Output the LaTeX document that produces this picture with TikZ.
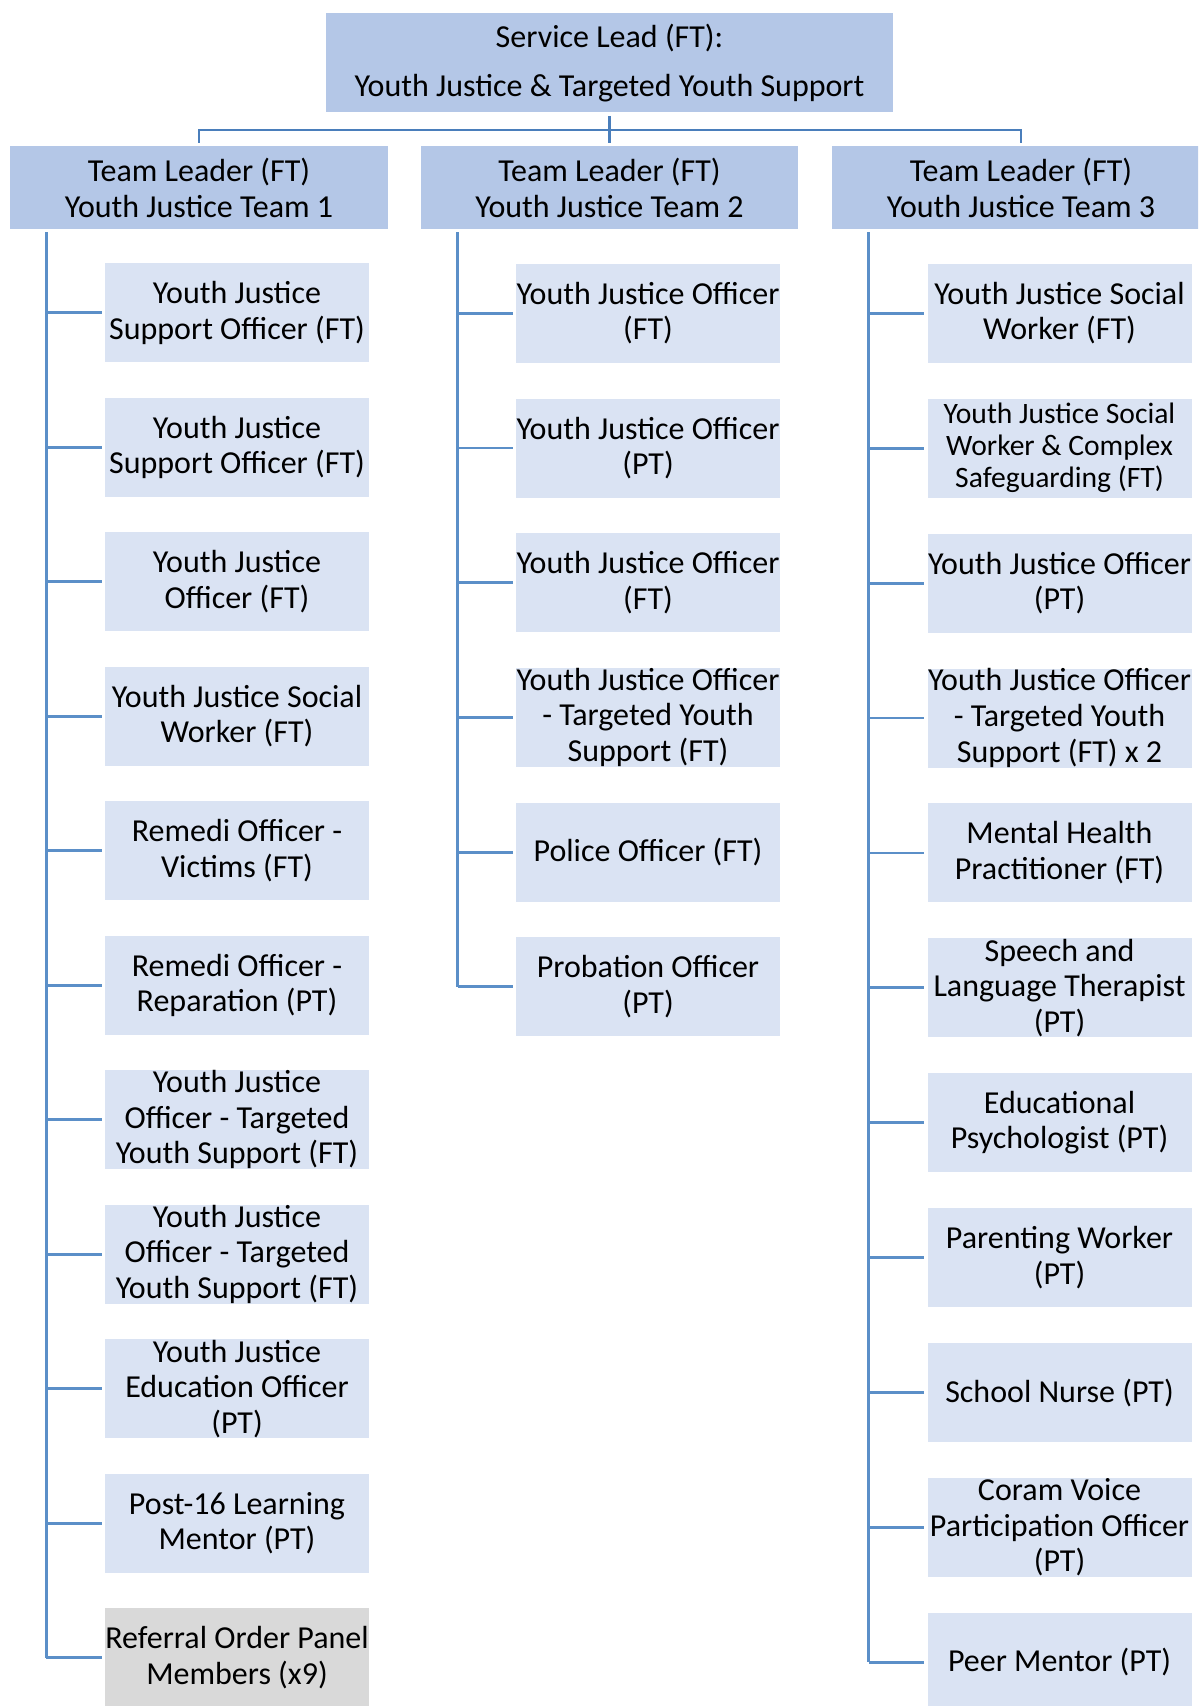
\documentclass[tikz,border=0pt]{standalone}
\usepackage{fontspec}
\setmainfont{Carlito}
\usepackage{tikz}
\usetikzlibrary{positioning}

\definecolor{leadblue}{HTML}{B4C7E7}
\definecolor{kidblue}{HTML}{DAE3F3}
\definecolor{panelgrey}{HTML}{D9D9D9}
\definecolor{linkblue}{HTML}{4A7EBB}
\definecolor{spineblue}{HTML}{5B8FC8}

\begin{document}
\begin{tikzpicture}[x=0.5pt, y=-0.5pt,
    lead/.style={fill=leadblue, inner sep=0pt, align=center, minimum width=283.5pt, minimum height=49.75pt, font=\fontsize{16}{24.5}\selectfont},
    teamlead/.style={fill=leadblue, inner sep=0pt, align=center, minimum width=188.8pt, minimum height=41.5pt, font=\fontsize{16}{18}\selectfont},
    kid/.style={fill=kidblue, inner sep=0pt, align=center, minimum width=132pt, minimum height=49.5pt, font=\fontsize{16}{17.8}\selectfont},
    kidsmall/.style={kid, font=\fontsize{14.8}{16}\selectfont},
    kidgrey/.style={kid, fill=panelgrey},
    bar/.style={linkblue, line width=1.3pt, shorten <=1.5pt, shorten >=1.5pt},
    spine/.style={spineblue, line width=1.6pt},
    branch/.style={spineblue, line width=1.4pt, shorten >=1.5pt}]

    % Page frame (the right team box and last rows run off the edge)
    \useasboundingbox (0,0) rectangle (1198,1706);
    \clip (0,0) rectangle (1198,1706);

    % Service lead and the three team leaders
    \node[lead] (lead) at (609.5,62.7) {Service Lead (FT):\\Youth Justice \& Targeted Youth Support};
    \node[teamlead] (tl1) at (199,187.5) {Team Leader (FT)\\Youth Justice Team 1};
    \node[teamlead] (tl2) at (609.5,187.5) {Team Leader (FT)\\Youth Justice Team 2};
    \node[teamlead] (tl3) at (1021,187.5) {Team Leader (FT)\\Youth Justice Team 3};

    % Bar from the lead to the team leaders
    \coordinate (barmid) at (609.5,130);
    \draw[bar] (lead.south) -- (tl2.north);
    \draw[bar] (tl1.north) |- (barmid) -| (tl3.north);

    % Team 1 staff
    \foreach \i/\txt/\sty in {1/{Youth Justice\\Support Officer (FT)}/kid,
                              2/{Youth Justice\\Support Officer (FT)}/kid,
                              3/{Youth Justice\\Officer (FT)}/kid,
                              4/{Youth Justice Social\\Worker (FT)}/kid,
                              5/{Remedi Officer -\\Victims (FT)}/kid,
                              6/{Remedi Officer -\\Reparation (PT)}/kid,
                              7/{Youth Justice\\Officer - Targeted\\Youth Support (FT)}/kid,
                              8/{Youth Justice\\Officer - Targeted\\Youth Support (FT)}/kid,
                              9/{Youth Justice\\Education Officer\\(PT)}/kid,
                              10/{Post-16 Learning\\Mentor (PT)}/kid,
                              11/{Referral Order Panel\\Members (x9)}/kidgrey} {
        \node[\sty] (a\i) at (237,{312.8+134.5*(\i-1)}) {\txt};
    }

    % Team 2 staff
    \foreach \i/\txt/\sty in {1/{Youth Justice Officer\\(FT)}/kid,
                              2/{Youth Justice Officer\\(PT)}/kid,
                              3/{Youth Justice Officer\\(FT)}/kid,
                              4/{Youth Justice Officer\\- Targeted Youth\\Support (FT)}/kid,
                              5/{Police Officer (FT)}/kid,
                              6/{Probation Officer\\(PT)}/kid} {
        \node[\sty] (b\i) at (648,{313.3+134.7*(\i-1)}) {\txt};
    }

    % Team 3 staff
    \foreach \i/\txt/\sty in {1/{Youth Justice Social\\Worker (FT)}/kid,
                              2/{Youth Justice Social\\Worker \& Complex\\Safeguarding (FT)}/kidsmall,
                              3/{Youth Justice Officer\\(PT)}/kid,
                              4/{Youth Justice Officer\\- Targeted Youth\\Support (FT) x 2}/kid,
                              5/{Mental Health\\Practitioner (FT)}/kid,
                              6/{Speech and\\Language Therapist\\(PT)}/kid,
                              7/{Educational\\Psychologist (PT)}/kid,
                              8/{Parenting Worker\\(PT)}/kid,
                              9/{School Nurse (PT)}/kid,
                              10/{Coram Voice\\Participation Officer\\(PT)}/kid,
                              11/{Peer Mentor (PT)}/kid} {
        \node[\sty] (c\i) at (1059.5,{313.3+134.9*(\i-1)}) {\txt};
    }

    % Spines under each team leader
    \coordinate (s1) at ([xshift=18.3pt, yshift=-1.5pt]tl1.south west);
    \coordinate (s2) at ([xshift=18.6pt, yshift=-1.5pt]tl2.south west);
    \coordinate (s3) at ([xshift=18.5pt, yshift=-1.5pt]tl3.south west);
    \draw[spine] (s1) -- (s1 |- a11.west);
    \draw[spine] (s2) -- (s2 |- b6.west);
    \draw[spine] (s3) -- (s3 |- c11.west);

    % Branches to the staff boxes
    \foreach \i in {1,...,11} {
        \draw[branch] (s1 |- a\i.west) -- (a\i.west);
        \draw[branch] (s3 |- c\i.west) -- (c\i.west);
    }
    \foreach \i in {1,...,6} {
        \draw[branch] (s2 |- b\i.west) -- (b\i.west);
    }
\end{tikzpicture}
\end{document}
